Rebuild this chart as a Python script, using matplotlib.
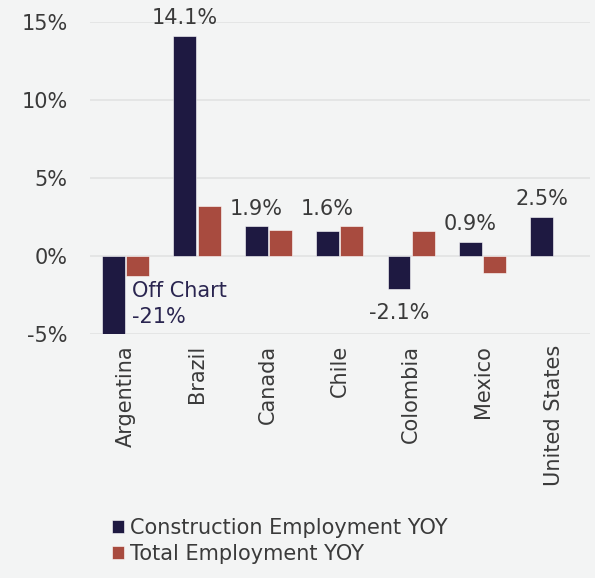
import matplotlib.pyplot as plt
import numpy as np

# dados do gráfico
paises = ["Argentina", "Brazil", "Canada", "Chile", "Colombia", "Mexico", "United States"]
construcao = [-21.0, 14.1, 1.9, 1.6, -2.1, 0.9, 2.5]
total = [-1.3, 3.2, 1.7, 1.9, 1.6, -1.1, np.nan]
rotulos = ["Off Chart\n-21%", "14.1%", "1.9%", "1.6%", "-2.1%", "0.9%", "2.5%"]
y_ticks = [-5, 0, 5, 10, 15]

cor_fundo = "#f3f4f4"
cor_navy = "#1e1941"
cor_verm = "#a84b3f"
cor_texto = "#3a3a3a"

plt.rcParams['font.family'] = ['DejaVu Sans']
fs = 15

fig = plt.figure(figsize=(5.95, 5.78), dpi=100, facecolor=cor_fundo)
ax = fig.add_axes([0.151, 0.422, 0.84, 0.54], facecolor=cor_fundo)

x = np.arange(len(paises))
w = 0.32
ax.bar(x - w / 2 - 0.01, construcao, w, color=cor_navy, edgecolor="white", linewidth=0.4,
       label="Construction Employment YOY", zorder=3)
ax.bar(x + w / 2 + 0.01, total, w, color=cor_verm, edgecolor="white", linewidth=0.4,
       label="Total Employment YOY", zorder=3)

ax.set_ylim(-5, 15)
ax.set_xlim(-0.5, len(paises) - 0.5)
ax.set_yticks(y_ticks)
ax.set_yticklabels([f"{t}%" for t in y_ticks])
ax.set_xticks(x)
ax.set_xticklabels(paises, rotation=90)
ax.tick_params(length=0, labelsize=fs, colors=cor_texto, pad=8)
ax.tick_params(axis="y", pad=16)
ax.grid(axis="y", color="#e2e3e3", linewidth=1.2, zorder=0)
for s in ax.spines.values():
    s.set_visible(False)

# rótulos de valor
for i, (v, txt) in enumerate(zip(construcao, rotulos)):
    xi = i - w / 2 - 0.01
    if v < -5:
        ax.text(xi + w / 2 + 0.1, -1.6, txt, color="#2a2550", fontsize=fs,
                ha="left", va="top", linespacing=1.35, zorder=4)
    elif v < 0:
        ax.text(xi, v - 0.9, txt, color=cor_texto, fontsize=fs, ha="center", va="top")
    else:
        top = max(v, total[i] if not np.isnan(total[i]) else v)
        ax.text(xi, top + 0.5, txt, color=cor_texto,
                fontsize=fs, ha="center", va="bottom")

leg = fig.legend(loc="lower left", bbox_to_anchor=(0.157, -0.008), frameon=False,
                 fontsize=fs, handlelength=0.55, handleheight=0.55, handletextpad=0.3,
                 labelspacing=0.3, labelcolor=cor_texto)

fig.savefig("out.png", dpi=100, facecolor=cor_fundo)
